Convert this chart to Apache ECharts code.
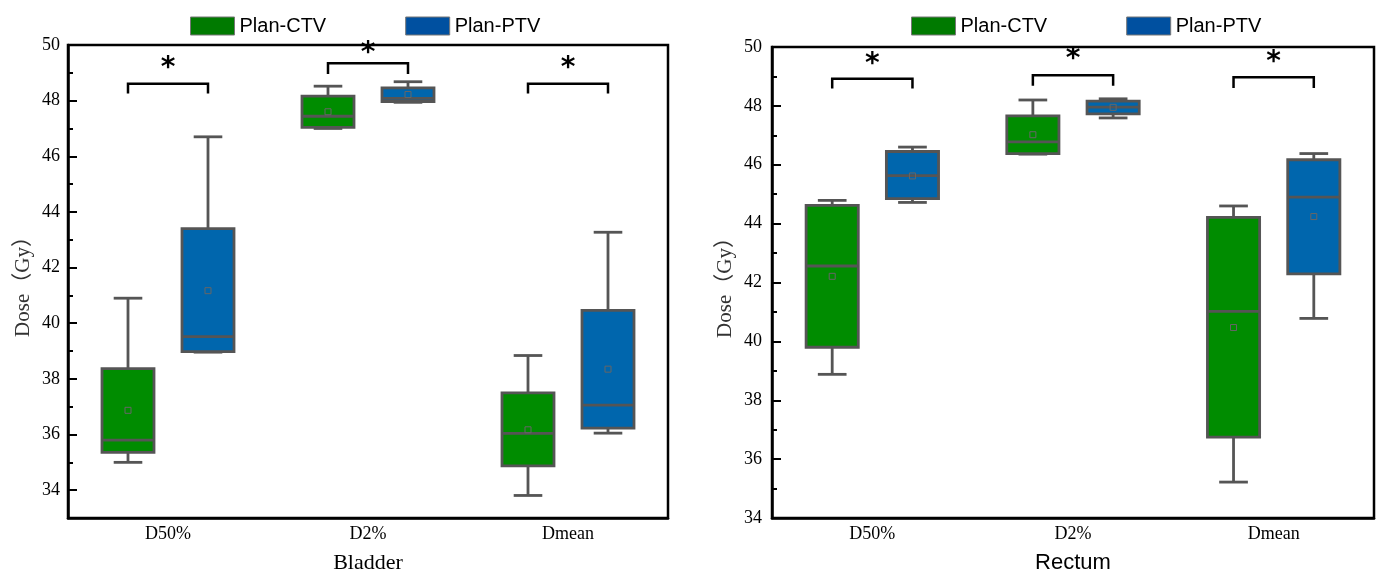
<!DOCTYPE html>
<html><head><meta charset="utf-8">
<script src="https://cdn.jsdelivr.net/npm/echarts@6/dist/echarts.min.js"></script>
<style>html,body{margin:0;padding:0;background:#fff}#c{width:1378px;height:579px}</style>
</head><body><div id="c"></div>
<script>
const categories = ['D50%', 'D2%', 'Dmean'];
const seriesNames = ['Plan-CTV', 'Plan-PTV'];
// box values: [min, Q1, median, Q3, max]
const bladderCTV = [[35.0, 35.36, 35.8, 38.37, 40.9], [47.0, 47.04, 47.44, 48.16, 48.52], [33.81, 34.87, 36.04, 37.5, 38.84]];
const bladderCTVMean = [36.87, 47.6, 36.17];
const bladderPTV = [[38.96, 38.98, 39.52, 43.4, 46.7], [47.94, 47.97, 48.08, 48.46, 48.68], [36.05, 36.23, 37.06, 40.46, 43.27]];
const bladderPTVMean = [41.17, 48.22, 38.35];
const rectumCTV = [[38.88, 39.8, 42.56, 44.62, 44.79], [46.36, 46.38, 46.78, 47.66, 48.2], [35.22, 36.75, 41.02, 44.21, 44.6]];
const rectumCTVMean = [42.21, 47.02, 40.47];
const rectumPTV = [[44.72, 44.85, 45.63, 46.45, 46.6], [47.59, 47.73, 47.96, 48.16, 48.24], [40.78, 42.29, 44.9, 46.17, 46.38]];
const rectumPTVMean = [45.62, 47.95, 44.24];
// significance brackets: [bracket top, bracket ends, star]
const bladderSig = [[48.61, 48.26, 49.4], [49.34, 48.96, 49.94], [48.61, 48.26, 49.4]];
const rectumSig = [[48.92, 48.59, 49.62], [49.04, 48.68, 49.81], [48.97, 48.61, 49.69]];

const GREEN = '#008c00', BLUE = '#0066ad';
const LEG_GREEN = '#007a00', LEG_BLUE = '#0050a0';
const SERIF = "'Liberation Serif', 'Noto Sans CJK SC', serif";
const SANS = "'Liberation Sans', Arial, sans-serif";

function boxData(vals, means) { return vals.map((b, i) => [i, ...b, means[i]]); }
function sigData(sig) { return sig.map((s, i) => [i, ...s]); }

function boxRender(sign, fill) {
  return function (params, api) {
    const c = api.value(0);
    const band = api.size([1, 0])[0];
    const x = api.coord([c, api.value(3)])[0] + sign * band * 0.2;
    const w = band * 0.26, cap = w * 0.55;
    const y = i => api.coord([c, api.value(i)])[1];
    const yMin = y(1), yQ1 = y(2), yMed = y(3), yQ3 = y(4), yMax = y(5), yMean = y(6);
    const st = { stroke: '#555', lineWidth: 2.8 };
    return { type: 'group', children: [
      { type: 'line', shape: { x1: x, y1: yMax, x2: x, y2: yQ3 }, style: st },
      { type: 'line', shape: { x1: x, y1: yQ1, x2: x, y2: yMin }, style: st },
      { type: 'line', shape: { x1: x - cap / 2, y1: yMax, x2: x + cap / 2, y2: yMax }, style: st },
      { type: 'line', shape: { x1: x - cap / 2, y1: yMin, x2: x + cap / 2, y2: yMin }, style: st },
      { type: 'rect', shape: { x: x - w / 2, y: yQ3, width: w, height: yQ1 - yQ3 }, style: { fill: fill, stroke: '#555', lineWidth: 2.8 } },
      { type: 'line', shape: { x1: x - w / 2, y1: yMed, x2: x + w / 2, y2: yMed }, style: st },
      { type: 'rect', shape: { x: x - 3, y: yMean - 3, width: 6, height: 6 }, style: { fill: 'none', stroke: '#666', lineWidth: 1 } }
    ]};
  };
}
function sigRender(params, api) {
  const c = api.value(0);
  const band = api.size([1, 0])[0];
  const cx = api.coord([c, api.value(1)])[0];
  const d = band * 0.2;
  const yTop = api.coord([c, api.value(1)])[1];
  const yEnd = api.coord([c, api.value(2)])[1];
  const yStar = api.coord([c, api.value(3)])[1];
  return { type: 'group', children: [
    { type: 'polyline', shape: { points: [[cx - d, yEnd], [cx - d, yTop], [cx + d, yTop], [cx + d, yEnd]] }, style: { stroke: '#000', lineWidth: 2.5, fill: 'none' } },
    { type: 'text', x: cx, y: yStar + 7, style: { text: '*', fontSize: 28, fontWeight: 'bold', fontFamily: 'DejaVu Sans', fill: '#000', align: 'center', verticalAlign: 'middle' } }
  ]};
}

function xAxis(grid, name, nameFont) {
  return {
    type: 'category', gridIndex: grid, data: categories,
    axisLine: { lineStyle: { color: '#000', width: 2.5 } },
    axisTick: { inside: true, alignWithLabel: true, length: 9, lineStyle: { color: '#000', width: 2 } },
    axisLabel: { color: '#000', fontFamily: SERIF, fontSize: 18, margin: 7 },
    name: name, nameLocation: 'middle', nameGap: 34,
    nameTextStyle: { color: '#000', fontFamily: nameFont, fontSize: 22 }
  };
}
const yName = 'Dose\uFF08Gy\uFF09';
const yNameStyle = { color: '#333', fontFamily: SERIF, fontSize: 21 };

function legend(left) {
  return { left: left, top: 16, padding: 0, itemWidth: 44, itemHeight: 18, itemGap: 79, icon: 'rect',
    textStyle: { fontFamily: SANS, fontSize: 20, color: '#000' },
    data: [
      { name: seriesNames[0], itemStyle: { color: LEG_GREEN, borderColor: '#777', borderWidth: 1 } },
      { name: seriesNames[1], itemStyle: { color: LEG_BLUE, borderColor: '#777', borderWidth: 1 } }
    ] };
}

const option = {
  animation: false,
  backgroundColor: '#fff',
  grid: [
    { left: 68, top: 45, width: 600, height: 478, show: true, borderColor: '#000', borderWidth: 2.5, backgroundColor: 'transparent' },
    { left: 772, top: 47, width: 602, height: 480, show: true, borderColor: '#000', borderWidth: 2.5, backgroundColor: 'transparent' }
  ],
  legend: [legend(190), legend(911)],
  xAxis: [xAxis(0, 'Bladder', SERIF), xAxis(1, 'Rectum', SANS)],
  yAxis: [
    { type: 'value', gridIndex: 0, min: 33, max: 50, interval: 1, position: 'left',
      axisLine: { show: true, lineStyle: { color: '#000', width: 2.5 } },
      axisTick: { show: true, inside: true, length: 5, lineStyle: { color: '#000', width: 2 } },
      axisLabel: { color: '#000', fontFamily: SERIF, fontSize: 18, margin: 8, formatter: v => (v % 2 === 0 ? String(v) : '') },
      splitLine: { show: false },
      name: yName, nameLocation: 'middle', nameGap: 34, nameTextStyle: yNameStyle },
    { type: 'value', gridIndex: 0, min: 33, max: 50, splitNumber: 8, position: 'left',
      axisLine: { show: false }, axisLabel: { show: false }, splitLine: { show: false },
      axisTick: { show: true, inside: true, length: 9, lineStyle: { color: '#000', width: 2 } } },
    { type: 'value', gridIndex: 1, min: 34, max: 50, interval: 2, position: 'left',
      axisLine: { show: true, lineStyle: { color: '#000', width: 2.5 } },
      axisTick: { show: true, inside: true, length: 9, lineStyle: { color: '#000', width: 2 } },
      minorTick: { show: true, splitNumber: 2, length: 5, lineStyle: { color: '#000', width: 2 } },
      axisLabel: { color: '#000', fontFamily: SERIF, fontSize: 18, margin: 10 },
      splitLine: { show: false },
      name: yName, nameLocation: 'middle', nameGap: 36, nameTextStyle: yNameStyle }
  ],
  series: [
    { type: 'custom', name: seriesNames[0], xAxisIndex: 0, yAxisIndex: 0, renderItem: boxRender(-1, GREEN),
      itemStyle: { color: LEG_GREEN }, encode: { x: 0, y: [1, 2, 3, 4, 5] }, data: boxData(bladderCTV, bladderCTVMean) },
    { type: 'custom', name: seriesNames[1], xAxisIndex: 0, yAxisIndex: 0, renderItem: boxRender(1, BLUE),
      itemStyle: { color: LEG_BLUE }, encode: { x: 0, y: [1, 2, 3, 4, 5] }, data: boxData(bladderPTV, bladderPTVMean) },
    { type: 'custom', name: 'sigB', xAxisIndex: 0, yAxisIndex: 0, renderItem: sigRender,
      encode: { x: 0, y: [1, 2, 3] }, data: sigData(bladderSig) },
    { type: 'custom', name: seriesNames[0], xAxisIndex: 1, yAxisIndex: 2, renderItem: boxRender(-1, GREEN),
      itemStyle: { color: LEG_GREEN }, encode: { x: 0, y: [1, 2, 3, 4, 5] }, data: boxData(rectumCTV, rectumCTVMean) },
    { type: 'custom', name: seriesNames[1], xAxisIndex: 1, yAxisIndex: 2, renderItem: boxRender(1, BLUE),
      itemStyle: { color: LEG_BLUE }, encode: { x: 0, y: [1, 2, 3, 4, 5] }, data: boxData(rectumPTV, rectumPTVMean) },
    { type: 'custom', name: 'sigR', xAxisIndex: 1, yAxisIndex: 2, renderItem: sigRender,
      encode: { x: 0, y: [1, 2, 3] }, data: sigData(rectumSig) }
  ]
};
const chart = echarts.init(document.getElementById('c'));
chart.setOption(option);
</script>
</body></html>
